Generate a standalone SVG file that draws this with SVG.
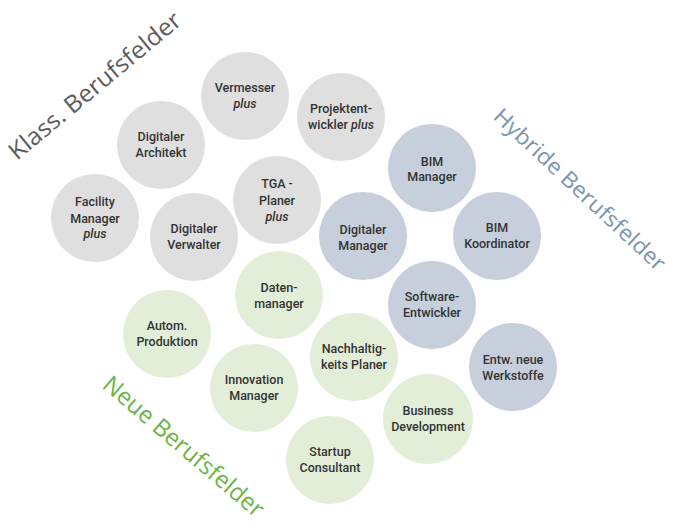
<svg xmlns="http://www.w3.org/2000/svg" width="673" height="528" viewBox="0 0 673 528">
<style>
.g{fill:#dfdfdf}
.b{fill:#c6cfdb}
.n{fill:#e2eed8}
.t{font-family:Roboto,"Liberation Sans",sans-serif;font-weight:500;font-size:12.5px;fill:#333333;text-anchor:middle}
.i{font-style:italic}
.h{font-family:"Open Sans","Noto Sans",sans-serif;font-size:24px}
</style>
<rect width="673" height="528" fill="#ffffff"/>
<g id="titles">
<text class="h" fill="#5c5c5c" transform="translate(17,161) rotate(-39.7)" textLength="216" lengthAdjust="spacingAndGlyphs">Klass. Berufsfelder</text>
<text class="h" fill="#7c95b3" style="font-size:22px" transform="translate(492,118) rotate(43)" textLength="226" lengthAdjust="spacingAndGlyphs">Hybride Berufsfelder</text>
<text class="h" fill="#6cb446" transform="translate(101,387) rotate(40.4)" textLength="203" lengthAdjust="spacingAndGlyphs">Neue Berufsfelder</text>
</g>
<g id="connectors"></g>
<g id="vermesser"><circle class="g" cx="245" cy="96" r="44"/><text class="t" x="245" y="92">Vermesser</text><text class="t i" x="245" y="108">plus</text></g>
<g id="projektentwickler"><circle class="g" cx="341" cy="117" r="44"/><text class="t" x="341" y="113">Projektent-</text><text class="t" x="341" y="129">wickler <tspan class="i">plus</tspan></text></g>
<g id="digitaler-architekt"><circle class="g" cx="161" cy="145" r="44"/><text class="t" x="161" y="141">Digitaler</text><text class="t" x="161" y="157">Architekt</text></g>
<g id="tga-planer"><circle class="g" cx="277" cy="200" r="44"/><text class="t" x="277" y="188">TGA -</text><text class="t" x="277" y="205">Planer</text><text class="t i" x="277" y="221">plus</text></g>
<g id="facility-manager"><circle class="g" cx="95" cy="218" r="44"/><text class="t" x="95" y="206">Facility</text><text class="t" x="95" y="223">Manager</text><text class="t i" x="95" y="238">plus</text></g>
<g id="digitaler-verwalter"><circle class="g" cx="194" cy="237" r="44"/><text class="t" x="194" y="233">Digitaler</text><text class="t" x="194" y="249">Verwalter</text></g>
<g id="bim-manager"><circle class="b" cx="432" cy="168" r="44"/><text class="t" x="432" y="166">BIM</text><text class="t" x="432" y="181">Manager</text></g>
<g id="digitaler-manager"><circle class="b" cx="363" cy="236" r="44"/><text class="t" x="363" y="234">Digitaler</text><text class="t" x="363" y="250">Manager</text></g>
<g id="bim-koordinator"><circle class="b" cx="497" cy="236" r="44"/><text class="t" x="497" y="232">BIM</text><text class="t" x="497" y="248">Koordinator</text></g>
<g id="software-entwickler"><circle class="b" cx="432" cy="305" r="44"/><text class="t" x="432" y="301">Software-</text><text class="t" x="432" y="317">Entwickler</text></g>
<g id="entw-neue-werkstoffe"><circle class="b" cx="513" cy="367" r="44"/><text class="t" x="513" y="364">Entw. neue</text><text class="t" x="513" y="380">Werkstoffe</text></g>
<g id="datenmanager"><circle class="n" cx="279" cy="295" r="44"/><text class="t" x="279" y="292">Daten-</text><text class="t" x="279" y="308">manager</text></g>
<g id="autom-produktion"><circle class="n" cx="167" cy="334" r="44"/><text class="t" x="167" y="330">Autom.</text><text class="t" x="167" y="346">Produktion</text></g>
<g id="innovation-manager"><circle class="n" cx="254" cy="388" r="44"/><text class="t" x="254" y="384">Innovation</text><text class="t" x="254" y="400">Manager</text></g>
<g id="nachhaltigkeits-planer"><circle class="n" cx="354" cy="357" r="44"/><text class="t" x="354" y="353">Nachhaltig-</text><text class="t" x="354" y="369">keits Planer</text></g>
<g id="business-development"><circle class="n" cx="428" cy="419" r="45"/><text class="t" x="428" y="415">Business</text><text class="t" x="428" y="431">Development</text></g>
<g id="startup-consultant"><circle class="n" cx="330" cy="460" r="44"/><text class="t" x="330" y="456">Startup</text><text class="t" x="330" y="472">Consultant</text></g>
</svg>
